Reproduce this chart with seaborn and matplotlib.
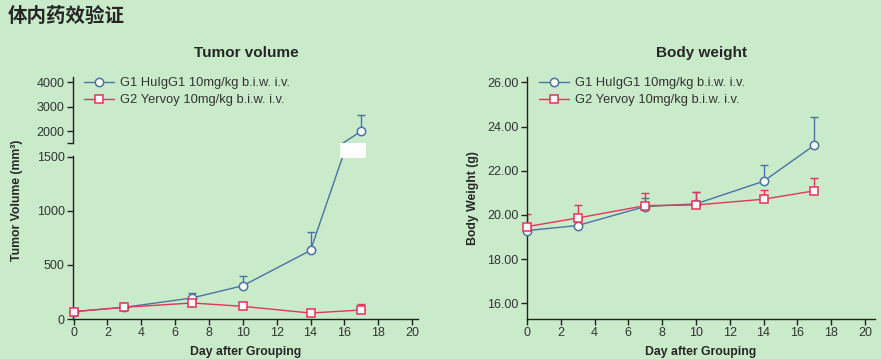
import numpy as np
import pandas as pd
import seaborn as sns
import matplotlib.pyplot as plt
from matplotlib.patches import Rectangle
from matplotlib.transforms import blended_transform_factory

# data
days = [0, 3, 7, 10, 14, 17]
groups = ['G1 HuIgG1 10mg/kg b.i.w. i.v.', 'G2 Yervoy 10mg/kg b.i.w. i.v.']

tumor_g1 = [68, 108, 194, 307, 633, 2000]
tumor_g1_err = [6, 8, 46, 90, 172, 670]
tumor_g2 = [68, 108, 148, 117, 55, 83]
tumor_g2_err = [5, 8, 15, 37, 37, 58]

weight_g1 = [19.29, 19.52, 20.38, 20.50, 21.52, 23.15]
weight_g1_err = [0.36, 0.30, 0.38, 0.53, 0.74, 1.26]
weight_g2 = [19.47, 19.86, 20.42, 20.45, 20.71, 21.09]
weight_g2_err = [0.56, 0.61, 0.58, 0.58, 0.41, 0.56]

colors = ['#4a72a6', '#e6335a']
bg = '#c9ebca'
ink = '#222222'

sns.set_theme(style='ticks')
plt.rcParams['font.family'] = ['Liberation Sans', 'Noto Sans CJK SC', 'DejaVu Sans']
plt.rcParams['axes.edgecolor'] = ink
plt.rcParams['xtick.color'] = ink
plt.rcParams['ytick.color'] = ink
plt.rcParams['xtick.labelcolor'] = '#333333'
plt.rcParams['ytick.labelcolor'] = '#333333'

W, H = 881, 359
fig = plt.figure(figsize=(W / 100, H / 100), dpi=100, facecolor=bg)


def box(x0, y0, x1, y1):
    # pixel box (top-left origin) -> figure fraction rect
    return [x0 / W, 1 - y1 / H, (x1 - x0) / W, (y1 - y0) / H]


ax_lo = fig.add_axes(box(73, 156, 418, 319))
ax_hi = fig.add_axes(box(73, 77, 418, 143))
ax_bw = fig.add_axes(box(527, 77, 875, 319))

tumor = pd.DataFrame({'day': days * 2, 'value': tumor_g1 + tumor_g2,
                      'group': [groups[0]] * 6 + [groups[1]] * 6})
weight = pd.DataFrame({'day': days * 2, 'value': weight_g1 + weight_g2,
                       'group': [groups[0]] * 6 + [groups[1]] * 6})


def draw(ax, df, errs, clip=None):
    ax.set_facecolor(bg)
    for g, e, c in zip(groups, errs, colors):
        sub = df[df['group'] == g]
        ax.errorbar(sub['day'], sub['value'], yerr=[np.zeros(len(e)), e], fmt='none',
                    ecolor=c, elinewidth=1.0, capsize=3.2, capthick=1.0, zorder=2)
    sns.lineplot(data=df, x='day', y='value', hue='group', style='group',
                 markers=['o', 's'], dashes=False, palette=colors, ax=ax,
                 legend=False, linewidth=1.0, markersize=6, zorder=3)
    lines = [l for l in ax.lines if l.get_marker() in ('o', 's')]
    for l in lines:
        l.set_markerfacecolor('white')
        l.set_markeredgecolor(l.get_color())
        l.set_markeredgewidth(1.1)
        if clip is None:
            l.set_clip_on(False)
        else:
            l.set_clip_path(Rectangle(clip[:2], clip[2], clip[3], transform=ax.transAxes))
    ax.set_xlabel('')
    ax.set_ylabel('')
    ax.tick_params(length=4, width=1, labelsize=9, pad=2)
    for s in ax.spines.values():
        s.set_linewidth(1.0)
    sns.despine(ax=ax)
    return lines


# Tumor volume, broken y axis
lines = draw(ax_lo, tumor, [tumor_g1_err, tumor_g2_err], clip=(-0.05, -0.1, 1.1, 1.1))
draw(ax_hi, tumor, [tumor_g1_err, tumor_g2_err], clip=(-0.05, 0.0, 1.1, 1.3))

ax_lo.set_xlim(-0.03, 20.35)
ax_lo.set_ylim(0, 1505)
ax_lo.set_xticks(range(0, 21, 2))
ax_lo.set_yticks([0, 500, 1000, 1500])

ax_hi.set_xlim(-0.03, 20.35)
ax_hi.set_ylim(1510, 4220)
ax_hi.set_yticks([2000, 3000, 4000])
ax_hi.set_yticks([1515], minor=True)
ax_hi.tick_params(axis='y', which='minor', length=4, width=1)
ax_hi.spines['bottom'].set_visible(False)
ax_hi.tick_params(axis='x', bottom=False, labelbottom=False)

# white patch over the axis break
tr = blended_transform_factory(ax_lo.transData, ax_lo.transAxes)
ax_lo.add_patch(Rectangle((days[-1] - 1.25, 0.99), 1.55, 0.095, transform=tr,
                          facecolor='white', edgecolor='none', clip_on=False, zorder=5))

ax_lo.set_xlabel('Day after Grouping', fontsize=8.8, weight='bold', labelpad=5)
fig.text(17.5 / W, 1 - 200 / H, 'Tumor Volume (mm³)', rotation=90, ha='center',
         va='center', fontsize=8.8, weight='bold')

# Body weight
bw_lines = draw(ax_bw, weight, [weight_g1_err, weight_g2_err])
ax_bw.set_xlim(0, 20.6)
ax_bw.set_ylim(15.29, 26.24)
ax_bw.set_xticks(range(0, 21, 2))
ax_bw.set_yticks([16, 18, 20, 22, 24, 26])
ax_bw.set_yticklabels([f'{v:.2f}' for v in [16, 18, 20, 22, 24, 26]])
ax_bw.set_xlabel('Day after Grouping', fontsize=8.8, weight='bold', labelpad=5)
ax_bw.set_ylabel('Body Weight (g)', fontsize=8.8, weight='bold', labelpad=6)

# legends
for hs, x in ((lines, 84), (bw_lines, 539)):
    fig.legend(hs, groups, loc='upper left', bbox_to_anchor=(x / W, 1 - 77 / H),
               frameon=False, fontsize=9.3, labelcolor='#333333', handlelength=2.3,
               handletextpad=0.45, labelspacing=0.4, borderpad=0, borderaxespad=0)

# titles
fig.text(246 / W, 1 - 53 / H, 'Tumor volume', ha='center', va='center', fontsize=11, weight='bold')
fig.text(701 / W, 1 - 53 / H, 'Body weight', ha='center', va='center', fontsize=11, weight='bold')
fig.text(8 / W, 1 - 16 / H, '体内药效验证', ha='left', va='center', fontsize=14,
         weight='bold', family=['Noto Sans CJK SC', 'DejaVu Sans'])

fig.savefig('out.png', dpi=100, facecolor=bg)
